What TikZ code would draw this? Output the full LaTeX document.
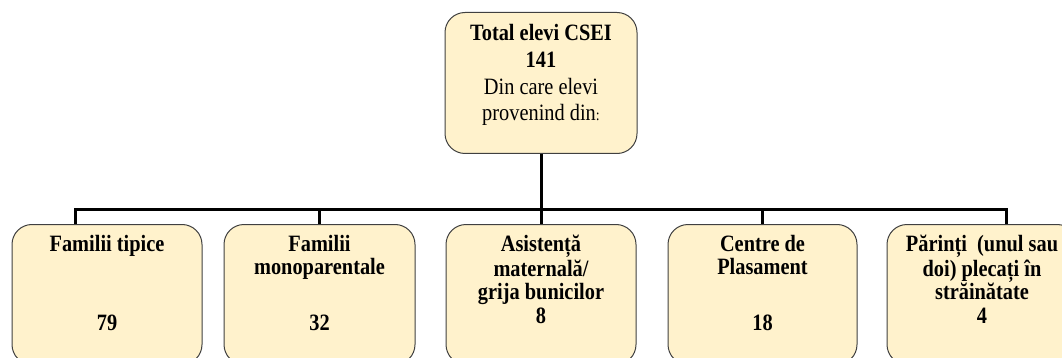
\documentclass[tikz,border=0pt]{standalone}
\usepackage{fontspec}
\setmainfont{Liberation Serif}[FakeStretch=0.87]
\usepackage{tikz}
\usetikzlibrary{positioning}

\definecolor{boxfill}{HTML}{FFF2CC}
\definecolor{boxline}{HTML}{404040}

% testo allineato in alto dentro un riquadro di altezza fissa
\newcommand{\boxtext}[3]{\parbox[t][#2][t]{#1}{\centering\strut #3}}

\begin{document}
\begin{tikzpicture}[x=1pt, y=-1pt,
		font=\fontsize{23.4}{23.5}\selectfont\bfseries,
		catbox/.style={draw=boxline, line width=1pt, fill=boxfill, rounded corners=20pt,
			anchor=north, inner xsep=2pt, inner ysep=10.5pt},
		link/.style={line width=3pt}]
	
	\useasboundingbox (0,0) rectangle (1062,358);
	\clip (0,0) rectangle (1062,358);
	
	% Riquadro principale
	\node[catbox, inner ysep=11.5pt] (total) at (541,12)
		{\boxtext{188pt}{118pt}{Total elevi CSEI\\[3.5pt] 141\\[3.5pt] \mdseries Din care elevi\\[2.5pt] provenind din{\fontsize{16}{16}\selectfont:}}};
	
	% Riquadri delle categorie
	\node[catbox] (tipice) at (107,224) {\boxtext{186pt}{119pt}{Familii tipice\\[56pt] 79}};
	\node[catbox] (mono) at (319.5,224) {\boxtext{187pt}{119pt}{Familii\\ monoparentale\\[32pt] 32}};
	\node[catbox] (asist) at (541,224) {\boxtext{186pt}{119pt}{Asistență\\ maternală/\\ grija bunicilor\\ 8}};
	\node[catbox] (centre) at (762.5,224) {\boxtext{185pt}{119pt}{Centre de\\ Plasament\\[32.5pt] 18}};
	\node[catbox] (parinti) at (982,224) {\boxtext{186pt}{119pt}{Părinți\ \ (unul sau\\ doi) plecați în\\ străinătate\\ 4}};
	
	% Punti di attacco delle linee
	\coordinate (split) at (541,209);
	\coordinate (tipice-in) at (75,224);
	\coordinate (parinti-in) at (1006,224);
	
	% Linee di collegamento
	\draw[link] (total.south) -- (split);
	\draw[link] (split) -| (tipice-in);
	\draw[link] (split) -| (mono.north);
	\draw[link] (split) -- (asist.north);
	\draw[link] (split) -| (centre.north);
	\draw[link] (split) -| (parinti-in);
	
\end{tikzpicture}
\end{document}
